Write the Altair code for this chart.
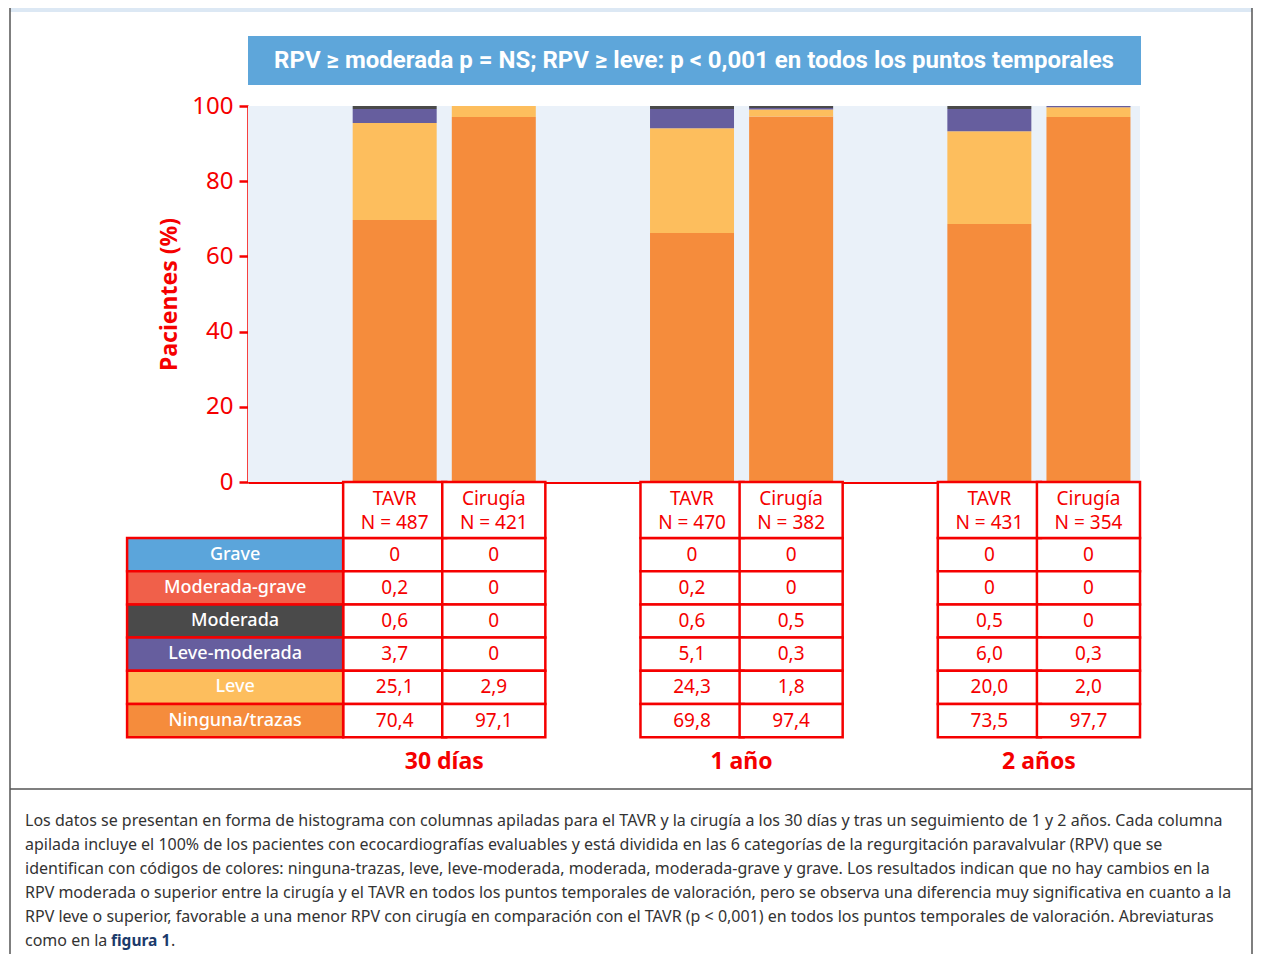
import altair as alt
import pandas as pd

# ---------------- data ----------------
categories = ["Ninguna/trazas", "Leve", "Leve-moderada", "Moderada", "Moderada-grave", "Grave"]
cat_colors = ["#F58C3C", "#FDBE5D", "#665E9E", "#4A4A4A", "#F0604A", "#5BA5DB"]

arms = ["TAVR", "Cirugía", "TAVR", "Cirugía", "TAVR", "Cirugía"]
n_labels = ["N = 487", "N = 421", "N = 470", "N = 382", "N = 431", "N = 354"]
groups = ["30 días", "1 año", "2 años"]
column_ids = ["TAVR-30d", "Cir-30d", "TAVR-1a", "Cir-1a", "TAVR-2a", "Cir-2a"]

# bar heights (%) as drawn in the figure
bar_ninguna = [69.7, 97.1, 66.2, 97.2, 68.6, 97.1]
bar_leve = [25.8, 2.9, 27.9, 1.9, 24.7, 2.6]
bar_levemod = [3.7, 0.0, 5.1, 0.4, 5.9, 0.3]
bar_moderada = [0.8, 0.0, 0.8, 0.5, 0.8, 0.0]
bar_modgrave = [0.0, 0.0, 0.0, 0.0, 0.0, 0.0]
bar_grave = [0.0, 0.0, 0.0, 0.0, 0.0, 0.0]

# table values as printed
tab_grave = ["0", "0", "0", "0", "0", "0"]
tab_modgrave = ["0,2", "0", "0,2", "0", "0", "0"]
tab_moderada = ["0,6", "0", "0,6", "0,5", "0,5", "0"]
tab_levemod = ["3,7", "0", "5,1", "0,3", "6,0", "0,3"]
tab_leve = ["25,1", "2,9", "24,3", "1,8", "20,0", "2,0"]
tab_ninguna = ["70,4", "97,1", "69,8", "97,4", "73,5", "97,7"]

title_text = "RPV ≥ moderada p = NS; RPV ≥ leve: p < 0,001 en todos los puntos temporales"
caption_lines = [
    "Los datos se presentan en forma de histograma con columnas apiladas para el TAVR y la cirugía a los 30 días y tras un seguimiento de 1 y 2 años. Cada columna",
    "apilada incluye el 100% de los pacientes con ecocardiografías evaluables y está dividida en las 6 categorías de la regurgitación paravalvular (RPV) que se",
    "identifican con códigos de colores: ninguna-trazas, leve, leve-moderada, moderada, moderada-grave y grave. Los resultados indican que no hay cambios en la",
    "RPV moderada o superior entre la cirugía y el TAVR en todos los puntos temporales de valoración, pero se observa una diferencia muy significativa en cuanto a la",
    "RPV leve o superior, favorable a una menor RPV con cirugía en comparación con el TAVR (p < 0,001) en todos los puntos temporales de valoración. Abreviaturas",
]

# ---------------- layout ----------------
W, H = 892, 376
ROW = 33.2
HEADER = 56
RED = "#F50000"
FONT = "Noto Sans"
slots = [1, 2, 4, 5, 7, 8]          # 9 slots across the plot, every third one empty
xcenter = [s + 0.48 for s in slots]
HALF = 0.52
HV = HEADER / ROW

bar_series = [bar_ninguna, bar_leve, bar_levemod, bar_moderada, bar_modgrave, bar_grave]
bars = []
for ci, (cat, vals) in enumerate(zip(categories, bar_series)):
    for j, v in enumerate(vals):
        bars.append({"col": column_ids[j], "x": xcenter[j], "cat": cat, "ord": ci, "val": v})
bars = pd.DataFrame(bars)

table_rows_top_down = list(reversed(categories))
tab_series = {"Grave": tab_grave, "Moderada-grave": tab_modgrave, "Moderada": tab_moderada,
              "Leve-moderada": tab_levemod, "Leve": tab_leve, "Ninguna/trazas": tab_ninguna}
cells = []
labels = []
for i, cat in enumerate(table_rows_top_down):
    y0 = HV + i
    labels.append({"cat": cat, "x0": -1.22, "x1": xcenter[0] - HALF, "xm": (-1.22 + xcenter[0] - HALF) / 2,
                   "y0": y0, "y1": y0 + 1, "ym": y0 + 0.5})
    for j in range(6):
        cells.append({"x0": xcenter[j] - HALF, "x1": xcenter[j] + HALF, "xm": xcenter[j],
                      "y0": y0, "y1": y0 + 1, "ym": y0 + 0.5, "txt": tab_series[cat][j]})
for j in range(6):
    cells.append({"x0": xcenter[j] - HALF, "x1": xcenter[j] + HALF, "xm": xcenter[j],
                  "y0": 0, "y1": HV, "ym": HV / 2, "txt": ""})
cells = pd.DataFrame(cells)
labels = pd.DataFrame(labels)

heads = []
for j in range(6):
    heads.append({"xm": xcenter[j], "ym": 0.5, "txt": arms[j]})
    heads.append({"xm": xcenter[j], "ym": 1.22, "txt": n_labels[j]})
heads = pd.DataFrame(heads)

grp = pd.DataFrame({"g": groups, "xm": [(xcenter[0] + xcenter[1]) / 2, (xcenter[2] + xcenter[3]) / 2,
                                       (xcenter[4] + xcenter[5]) / 2], "ym": [8.43] * 3})

xscale = alt.Scale(domain=[0, 9], nice=False, zero=False, padding=0)
tscale = alt.Scale(domain=[-H / ROW, 0], reverse=True, nice=False, zero=False)
cscale = alt.Scale(domain=categories, range=cat_colors)

one = pd.DataFrame({"a": [0]})

# ---------------- layers ----------------
plot_bg = alt.Chart(one).mark_rect(color="#EAF1F9").encode(
    x=alt.value(0), x2=alt.value(W), y=alt.value(0), y2=alt.value(H))

bar_layer = alt.Chart(bars).mark_bar(size=84).encode(
    x=alt.X("x:Q", scale=xscale,
            axis=alt.Axis(labels=False, ticks=False, grid=False, title=None,
                          domainColor=RED, domainWidth=3)),
    y=alt.Y("val:Q", stack="zero", scale=alt.Scale(domain=[0, 100], nice=False),
            axis=alt.Axis(values=[0, 20, 40, 60, 80, 100], title="Pacientes (%)", grid=False,
                          domainColor=RED, domainWidth=2.5, tickColor=RED, tickWidth=2.5,
                          tickSize=9, labelColor=RED, labelFontSize=24, labelFont=FONT,
                          labelPadding=6, titleColor=RED, titleFontSize=23, titleFont=FONT,
                          titleFontWeight="bold", titlePadding=10)),
    color=alt.Color("cat:N", scale=cscale, legend=None),
    order=alt.Order("ord:Q"),
)

cell_rect = alt.Chart(cells).mark_rect(fill="white", stroke=RED, strokeWidth=2.5).encode(
    x=alt.X("x0:Q", scale=xscale), x2="x1:Q",
    y=alt.Y("y0:Q", scale=tscale, axis=None), y2="y1:Q",
)
label_rect = alt.Chart(labels).mark_rect(stroke=RED, strokeWidth=2.5).encode(
    x=alt.X("x0:Q", scale=xscale), x2="x1:Q",
    y=alt.Y("y0:Q", scale=tscale, axis=None), y2="y1:Q",
    fill=alt.Fill("cat:N", scale=cscale, legend=None),
)
label_text = alt.Chart(labels).mark_text(color="white", fontSize=18, font=FONT, fontWeight=500).encode(
    x=alt.X("xm:Q", scale=xscale),
    y=alt.Y("ym:Q", scale=tscale, axis=None),
    text="cat:N",
)
cell_text = alt.Chart(cells).mark_text(color=RED, fontSize=19, font=FONT).encode(
    x=alt.X("xm:Q", scale=xscale),
    y=alt.Y("ym:Q", scale=tscale, axis=None),
    text="txt:N",
)
head_text = alt.Chart(heads).mark_text(color=RED, fontSize=19, font=FONT).encode(
    x=alt.X("xm:Q", scale=xscale),
    y=alt.Y("ym:Q", scale=tscale, axis=None),
    text="txt:N",
)
grp_text = alt.Chart(grp).mark_text(color=RED, fontSize=23, font=FONT, fontWeight="bold").encode(
    x=alt.X("xm:Q", scale=xscale),
    y=alt.Y("ym:Q", scale=tscale, axis=None),
    text="g:N",
)

# decorations (page frame, title box, caption)
title_box = alt.Chart(one).mark_rect(color="#5EA6DA").encode(
    x=alt.value(0), x2=alt.value(W + 1), y=alt.value(-70), y2=alt.value(-21))
title_mark = alt.Chart(one).mark_text(color="white", fontSize=24, font="Roboto", fontWeight="bold").encode(
    x=alt.value(W / 2), y=alt.value(-45), text=alt.value(title_text))
top_band = alt.Chart(one).mark_rect(color="#DCE8F4").encode(
    x=alt.value(-238), x2=alt.value(1004), y=alt.value(-98), y2=alt.value(-94))
frame_l = alt.Chart(one).mark_rule(color="#555555", strokeWidth=1.5).encode(
    x=alt.value(-238), y=alt.value(-98), y2=alt.value(848))
frame_r = alt.Chart(one).mark_rule(color="#555555", strokeWidth=1.5).encode(
    x=alt.value(1004), y=alt.value(-98), y2=alt.value(848))
frame_h = alt.Chart(one).mark_rule(color="#555555", strokeWidth=1.5).encode(
    x=alt.value(-238), x2=alt.value(1004), y=alt.value(683))

CAP = 16
cap_layers = []
for k, line in enumerate(caption_lines):
    cap_layers.append(alt.Chart(one).mark_text(color="#333333", fontSize=CAP, font=FONT, align="left").encode(
        x=alt.value(-223), y=alt.value(715 + 24 * k), text=alt.value(line)))
cap_layers.append(alt.Chart(one).mark_text(color="#333333", fontSize=CAP, font=FONT, align="left").encode(
    x=alt.value(-223), y=alt.value(715 + 24 * 5), text=alt.value("como en la")))
cap_layers.append(alt.Chart(one).mark_text(color="#1B3A6B", fontSize=CAP - 0.5, font=FONT, fontWeight="bold",
                                           align="left").encode(
    x=alt.value(-137), y=alt.value(715 + 24 * 5), text=alt.value("figura 1")))
cap_layers.append(alt.Chart(one).mark_text(color="#333333", fontSize=CAP, font=FONT, align="left").encode(
    x=alt.value(-77), y=alt.value(715 + 24 * 5), text=alt.value(".")))

chart = alt.layer(
    top_band, frame_l, frame_r, frame_h, title_box, title_mark, plot_bg,
    bar_layer, cell_rect, label_rect, label_text, cell_text, head_text, grp_text,
    *cap_layers,
).resolve_scale(y="independent").properties(
    width=W, height=H, autosize="none", background="white",
    padding={"left": 240, "top": 98, "right": 113, "bottom": 472},
).configure_view(stroke=None)

chart.save("out.html", embed_options={"renderer": "svg", "actions": False})
